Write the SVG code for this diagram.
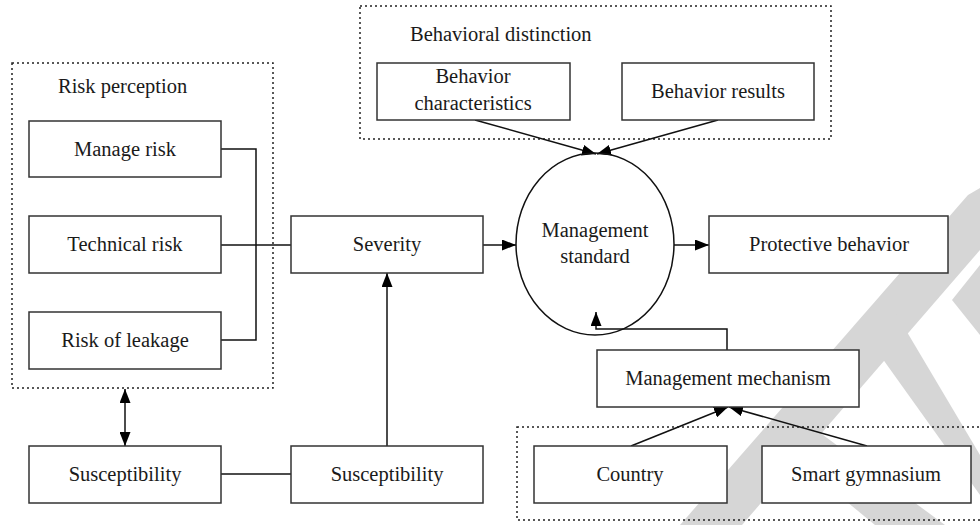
<svg xmlns="http://www.w3.org/2000/svg" width="980" height="525" viewBox="0 0 980 525">
<defs>
<marker id="ah" viewBox="0 0 14 11" refX="14" refY="5.5" markerWidth="14" markerHeight="11" markerUnits="userSpaceOnUse" orient="auto-start-reverse">
<path d="M0,0 L14,5.5 L0,11 z" fill="#000"/>
</marker>
<style>
.box{fill:#fff;stroke:#333;stroke-width:1.5}
.grp{fill:none;stroke:#222;stroke-width:1.5;stroke-dasharray:2 3}
.t{font-family:"Liberation Serif","Times New Roman",serif;font-size:20.5px;fill:#1a1a1a;text-anchor:middle}
.lab{font-family:"Liberation Serif","Times New Roman",serif;font-size:20.5px;fill:#1a1a1a}
.c{fill:none;stroke:#111;stroke-width:1.5}
.wm{fill:#d6d6d6;stroke:none}
</style>
</defs>
<rect width="980" height="525" fill="#fff"/>
<g id="watermark">
<polygon class="wm" points="680,525 742,525 980,250 980,188 968,195"/>
<polygon class="wm" points="772,440 800,418 945,525 875,525"/>
<polygon class="wm" points="862,330 888,300 980,455 980,495"/>
<polygon class="wm" points="952,300 980,265 980,335"/>
</g>
<g id="group-risk-perception">
<rect class="grp" x="12" y="63" width="261" height="325"/>
<text class="lab" x="58" y="93">Risk perception</text>
</g>
<g id="group-behavioral-distinction">
<rect class="grp" x="360" y="6" width="471" height="133"/>
<text class="lab" x="410" y="41">Behavioral distinction</text>
</g>
<g id="group-lower">
<rect class="grp" x="517" y="427" width="475" height="93"/>
</g>
<g id="connectors">
<path class="c" d="M221,149 H256 V340 H221"/>
<path class="c" d="M221,245 H291"/>
<path class="c" d="M483,245 H516" marker-end="url(#ah)"/>
<path class="c" d="M674,245 H709" marker-end="url(#ah)"/>
<path class="c" d="M475,120 L596,154" marker-end="url(#ah)"/>
<path class="c" d="M718,120 L597,154" marker-end="url(#ah)"/>
<path class="c" d="M727,350 V329 H596 V312" marker-end="url(#ah)"/>
<path class="c" d="M631,446 L728,407" marker-end="url(#ah)"/>
<path class="c" d="M867,446 L729,407" marker-end="url(#ah)"/>
<path class="c" d="M387,446 V273" marker-end="url(#ah)"/>
<path class="c" d="M221,474 H291"/>
<path class="c" d="M125,389 V446" marker-start="url(#ah)" marker-end="url(#ah)"/>
</g>
<g id="manage-risk"><rect class="box" x="29" y="121" width="192" height="56"/><text class="t" x="125" y="156">Manage risk</text></g>
<g id="technical-risk"><rect class="box" x="29" y="216" width="192" height="57"/><text class="t" x="125" y="251">Technical risk</text></g>
<g id="risk-of-leakage"><rect class="box" x="29" y="312" width="192" height="57"/><text class="t" x="125" y="347">Risk of leakage</text></g>
<g id="severity"><rect class="box" x="291" y="216" width="192" height="57"/><text class="t" x="387" y="251">Severity</text></g>
<g id="management-standard"><ellipse cx="595" cy="244" rx="79" ry="91" fill="none" stroke="#111" stroke-width="1.5"/><text class="t" x="595" y="237">Management</text><text class="t" x="595" y="263">standard</text></g>
<g id="protective-behavior"><rect class="box" x="709" y="216" width="239" height="57"/><text class="t" x="829" y="251">Protective behavior</text></g>
<g id="behavior-characteristics"><rect class="box" x="377" y="63" width="193" height="57"/><text class="t" x="473" y="83">Behavior</text><text class="t" x="473" y="110">characteristics</text></g>
<g id="behavior-results"><rect class="box" x="622" y="63" width="192" height="57"/><text class="t" x="718" y="98">Behavior results</text></g>
<g id="management-mechanism"><rect class="box" x="597" y="350" width="262" height="57"/><text class="t" x="728" y="385">Management mechanism</text></g>
<g id="country"><rect class="box" x="534" y="446" width="193" height="57"/><text class="t" x="630" y="481">Country</text></g>
<g id="smart-gymnasium"><rect class="box" x="762" y="446" width="209" height="57"/><text class="t" x="866" y="481">Smart gymnasium</text></g>
<g id="susceptibility-left"><rect class="box" x="29" y="446" width="192" height="57"/><text class="t" x="125" y="481">Susceptibility</text></g>
<g id="susceptibility-right"><rect class="box" x="291" y="446" width="192" height="57"/><text class="t" x="387" y="481">Susceptibility</text></g>
</svg>
